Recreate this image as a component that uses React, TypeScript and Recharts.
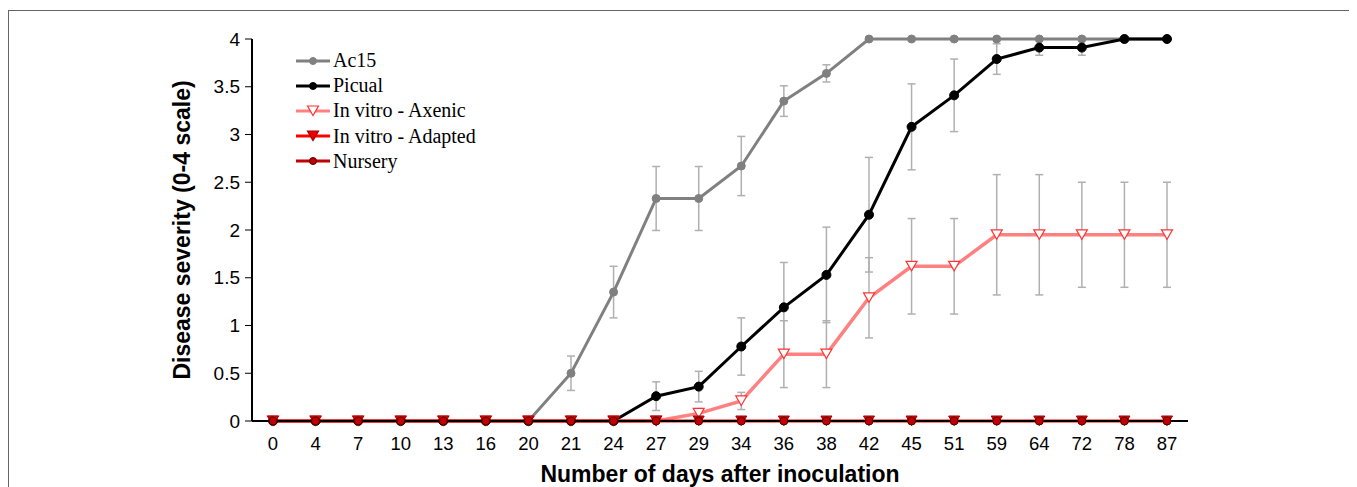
import { ComposedChart, Line, XAxis, YAxis, ErrorBar, Label } from 'recharts';

const days = ['0', '4', '7', '10', '13', '16', '20', '21', '24', '27', '29', '34', '36', '38', '42', '45', '51', '59', '64', '72', '78', '87'];

const ac15 = [0, 0, 0, 0, 0, 0, 0, 0.5, 1.35, 2.33, 2.33, 2.67, 3.35, 3.64, 4, 4, 4, 4, 4, 4, 4, 4];
const ac15Err = [0, 0, 0, 0, 0, 0, 0, 0.18, 0.27, 0.335, 0.335, 0.31, 0.16, 0.09, 0, 0, 0, 0, 0, 0, 0, 0];

const picual = [0, 0, 0, 0, 0, 0, 0, 0, 0, 0.26, 0.36, 0.78, 1.19, 1.53, 2.16, 3.08, 3.41, 3.79, 3.91, 3.91, 4, 4];
const picualErr = [0, 0, 0, 0, 0, 0, 0, 0, 0, 0.15, 0.16, 0.3, 0.47, 0.5, 0.6, 0.45, 0.38, 0.16, 0.08, 0.08, 0, 0];

const axenic = [0, 0, 0, 0, 0, 0, 0, 0, 0, 0, 0.08, 0.21, 0.7, 0.7, 1.29, 1.62, 1.62, 1.95, 1.95, 1.95, 1.95, 1.95];
const axenicErr = [0, 0, 0, 0, 0, 0, 0, 0, 0, 0, 0.05, 0.09, 0.35, 0.35, 0.42, 0.5, 0.5, 0.63, 0.63, 0.55, 0.55, 0.55];

const adapted = [0, 0, 0, 0, 0, 0, 0, 0, 0, 0, 0, 0, 0, 0, 0, 0, 0, 0, 0, 0, 0, 0];
const nursery = [0, 0, 0, 0, 0, 0, 0, 0, 0, 0, 0, 0, 0, 0, 0, 0, 0, 0, 0, 0, 0, 0];

const yTicks = [0, 0.5, 1, 1.5, 2, 2.5, 3, 3.5, 4];

const data = days.map((d, i) => ({
  day: d,
  ac15: ac15[i], ac15Err: ac15Err[i],
  picual: picual[i], picualErr: picualErr[i],
  axenic: axenic[i], axenicErr: axenicErr[i],
  adapted: adapted[i],
  nursery: nursery[i],
}));

const SANS = '"Liberation Sans", Arial, sans-serif';
const SERIF = '"Liberation Serif", "Times New Roman", serif';
const ERR = '#b0b0b0';

function tri(cx: number, cy: number) {
  return `M${cx - 5.5},${cy - 5} L${cx + 5.5},${cy - 5} L${cx},${cy + 4.5} Z`;
}

const axenicDot = (p: any) => (
  <path key={`ax-${p.index}`} d={tri(p.cx, p.cy)} fill="#fff" stroke="#ff3333" strokeWidth={1.2} />
);
const adaptedDot = (p: any) => (
  <path key={`ad-${p.index}`} d={tri(p.cx, p.cy)} fill="#ee0000" stroke="#a00000" strokeWidth={1} />
);

const legendItems = [
  { name: 'Ac15', color: '#808080', mark: 'circle', fill: '#808080', stroke: '#808080' },
  { name: 'Picual', color: '#000', mark: 'circle', fill: '#000', stroke: '#000' },
  { name: 'In vitro - Axenic', color: '#ff8080', mark: 'tri', fill: '#fff', stroke: '#ff3333' },
  { name: 'In vitro - Adapted', color: '#ff0000', mark: 'tri', fill: '#ee0000', stroke: '#a00000' },
  { name: 'Nursery', color: '#c00000', mark: 'circle', fill: '#c00000', stroke: '#500000' },
];

const LegendBox = () => (
  <div style={{ position: 'absolute', top: 37, left: 287, fontFamily: SERIF, fontSize: 20, color: '#000' }}>
    {legendItems.map(it => (
      <div key={it.name} style={{ display: 'flex', alignItems: 'center', height: 25.2 }}>
        <svg width={36} height={14} style={{ marginRight: 1 }}>
          <line x1={0} y1={7} x2={34} y2={7} stroke={it.color} strokeWidth={3} />
          {it.mark === 'circle'
            ? <circle cx={17} cy={7} r={3.5} fill={it.fill} stroke={it.stroke} />
            : <path d={`M11.5,2 L22.5,2 L17,11.5 Z`} fill={it.fill} stroke={it.stroke} strokeWidth={1.2} />}
        </svg>
        <span>{it.name}</span>
      </div>
    ))}
  </div>
);

export default function App() {
  return (
    <div style={{ position: 'relative', marginTop: 2, width: 1346, height: 490, border: '1px solid #666' }}>
      <ComposedChart
        width={1346}
        height={476}
        data={data}
        margin={{ top: 28, right: 167, bottom: 36, left: 183 }}
      >
        <XAxis
          dataKey="day"
          height={30}
          padding={{ left: 21, right: 21 }}
          tickLine={false}
          axisLine={{ stroke: '#000', strokeWidth: 2 }}
          tick={{ fill: '#000', fontSize: 18.5, fontFamily: SANS }}
          tickMargin={10}
          interval={0}
        >
          <Label
            value="Number of days after inoculation"
            position="bottom"
            offset={15}
            style={{ fill: '#000', fontSize: 23, fontWeight: 'bold', fontFamily: SANS }}
          />
        </XAxis>
        <XAxis xAxisId="top" dataKey="day" orientation="top" height={0} tick={false} tickLine={false}
          axisLine={{ stroke: '#000', strokeWidth: 2 }} />
        <YAxis
          domain={[0, 4]}
          ticks={yTicks}
          width={60}
          tickSize={7}
          tickMargin={5}
          axisLine={{ stroke: '#000', strokeWidth: 2 }}
          tickLine={{ stroke: '#000' }}
          tick={{ fill: '#000', fontSize: 19, fontFamily: SANS }}
          interval={0}
        >
          <Label
            value="Disease severity (0-4 scale)"
            angle={-90}
            position="left"
            offset={10}
            style={{ fill: '#000', fontSize: 23, fontWeight: 'bold', fontFamily: SANS, textAnchor: 'middle' }}
          />
        </YAxis>
        <YAxis yAxisId="right" orientation="right" domain={[0, 4]} width={0} tick={false} tickLine={false}
          axisLine={{ stroke: '#000', strokeWidth: 2 }} />

        <Line dataKey="ac15" name="Ac15" stroke="#808080" strokeWidth={3} isAnimationActive={false}
          dot={{ r: 4, fill: '#808080', stroke: '#808080', strokeWidth: 1 }}>
          <ErrorBar dataKey="ac15Err" stroke={ERR} strokeWidth={1.5} width={4} direction="y" />
        </Line>
        <Line dataKey="picual" name="Picual" stroke="#000" strokeWidth={3} isAnimationActive={false}
          dot={{ r: 4.5, fill: '#000', stroke: '#000', strokeWidth: 1 }}>
          <ErrorBar dataKey="picualErr" stroke={ERR} strokeWidth={1.5} width={4} direction="y" />
        </Line>
        <Line dataKey="axenic" name="In vitro - Axenic" stroke="#ff8080" strokeWidth={3.5} isAnimationActive={false}
          dot={axenicDot}>
          <ErrorBar dataKey="axenicErr" stroke={ERR} strokeWidth={1.5} width={4} direction="y" />
        </Line>
        <Line dataKey="adapted" name="In vitro - Adapted" stroke="#ff0000" strokeWidth={3} isAnimationActive={false}
          dot={adaptedDot} />
        <Line dataKey="nursery" name="Nursery" stroke="#c00000" strokeWidth={2} isAnimationActive={false}
          dot={{ r: 4, fill: '#c00000', stroke: '#500000', strokeWidth: 1 }} />
      </ComposedChart>
      <LegendBox />
    </div>
  );
}
